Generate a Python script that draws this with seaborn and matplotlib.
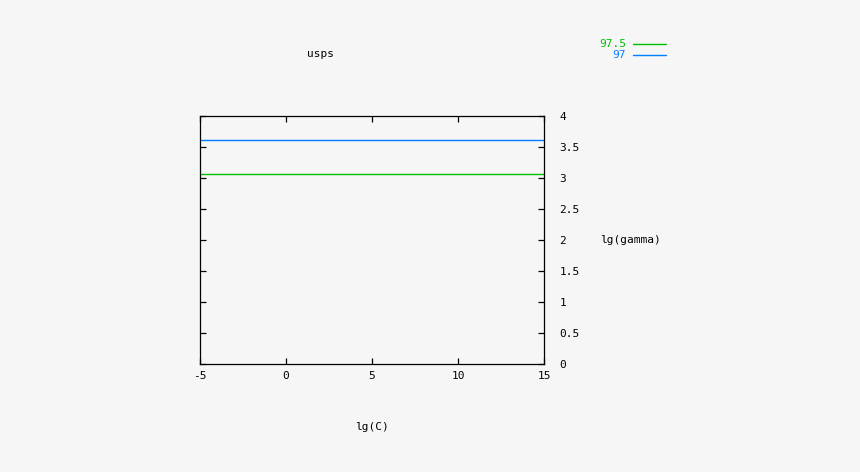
import pandas as pd
import matplotlib
matplotlib.use('Agg')
import matplotlib.pyplot as plt
import seaborn as sns
from matplotlib.lines import Line2D

# contour levels (accuracy) and where they sit in lg(gamma)
levels = ['97.5', '97']
level_gamma = [3.065, 3.613]
level_colors = ['#00c000', '#0080ff']
lg_c = [-5, 15]

rows = []
for lev, g in zip(levels, level_gamma):
    for c in lg_c:
        rows.append({'lg(C)': c, 'lg(gamma)': g, 'level': lev})
df = pd.DataFrame(rows)

sns.set_theme(style="white")
plt.rcParams['font.family'] = ['DejaVu Sans Mono']
plt.rcParams['text.color'] = 'black'
plt.rcParams['axes.unicode_minus'] = False
bg = '#f6f6f6'

fig = plt.figure(figsize=(8.6, 4.72), dpi=100, facecolor=bg)
ax = fig.add_axes([200 / 860, 1 - 364 / 472, 344 / 860, 248 / 472], facecolor=bg)

sns.lineplot(data=df, x='lg(C)', y='lg(gamma)', hue='level', hue_order=levels,
             palette=dict(zip(levels, level_colors)), linewidth=1.0, legend=False, ax=ax)

ax.set_xlim(-5, 15)
ax.set_ylim(0, 4)
ax.set_xticks([-5, 0, 5, 10, 15])
ax.set_yticks([0, 0.5, 1, 1.5, 2, 2.5, 3, 3.5, 4])
ax.set_yticklabels(['0', '0.5', '1', '1.5', '2', '2.5', '3', '3.5', '4'])
ax.set_xlabel('')
ax.set_ylabel('')
for s in ax.spines.values():
    s.set_visible(True)
    s.set_color('black')
    s.set_linewidth(0.9)
ax.tick_params(axis='both', direction='in', length=4, width=0.9, colors='black',
               labelsize=8, top=True, right=True, bottom=True, left=True)
ax.tick_params(axis='y', labelleft=False, labelright=True, pad=11)
ax.tick_params(axis='x', pad=5)
for t in ax.get_yticklabels():
    t.set_ha('left')

fig.text(321 / 860, 1 - 54 / 472, 'usps', ha='center', va='center', fontsize=8)
fig.text(372 / 860, 1 - 427 / 472, 'lg(C)', ha='center', va='center', fontsize=8)
fig.text(600 / 860, 1 - 240 / 472, 'lg(gamma)', ha='left', va='center', fontsize=8)

# legend, gnuplot style: label right-aligned, then sample line
for i, (lev, col) in enumerate(zip(levels, level_colors)):
    y = 1 - (44 + 11 * i) / 472
    fig.text(626 / 860, y, lev, ha='right', va='center', fontsize=8, color=col)
    fig.add_artist(Line2D([633 / 860, 666 / 860], [y, y], color=col, linewidth=1.0,
                          transform=fig.transFigure))

fig.savefig('out.png', dpi=100, facecolor=bg)
